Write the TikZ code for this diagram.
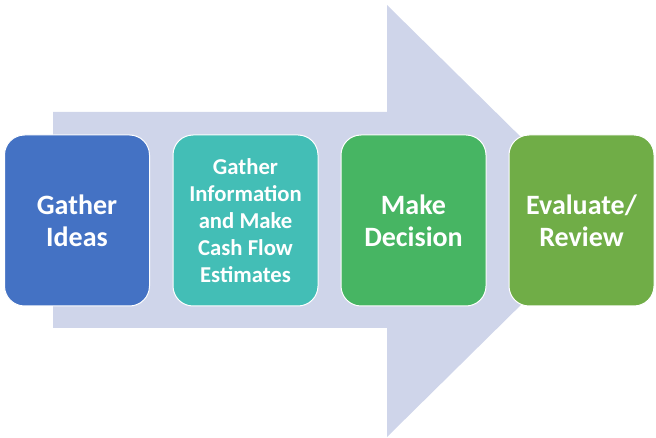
\documentclass[tikz,border=0pt]{standalone}
\usepackage{fontspec}
\setmainfont{Carlito}
\definecolor{arrowc}{HTML}{CFD5EA}
\definecolor{c1}{HTML}{4472C4}
\definecolor{c2}{HTML}{43BEB6}
\definecolor{c3}{HTML}{47B563}
\definecolor{c4}{HTML}{70AD47}
\tikzset{
  stagebox/.style={draw=white, line width=1pt, rounded corners=20pt, minimum width=145pt, minimum height=171pt, inner sep=2pt, text=white, align=center, font=\bfseries\fontsize{28}{32}\selectfont},
  smalltext/.style={font=\bfseries\fontsize{22.7}{27}\selectfont}
}
\begin{document}
\begin{tikzpicture}[x=1pt,y=-1pt]
\useasboundingbox (0,0) rectangle (656,438);
\fill[arrowc] (53,112) -- (387,112) -- (387,5) -- (606,221) -- (387,437) -- (387,328) -- (53,328) -- cycle;
\node[stagebox, fill=c1] (s1) at (77,220.5) {Gather\\Ideas};
\node[stagebox, fill=c2, smalltext] (s2) at (245.5,220.5) {Gather\\Information\\and Make\\Cash Flow\\Estimates};
\node[stagebox, fill=c3] (s3) at (413.5,220.5) {Make\\Decision};
\node[stagebox, fill=c4] (s4) at (581.5,220.5) {Evaluate/\\Review};
\end{tikzpicture}
\end{document}
